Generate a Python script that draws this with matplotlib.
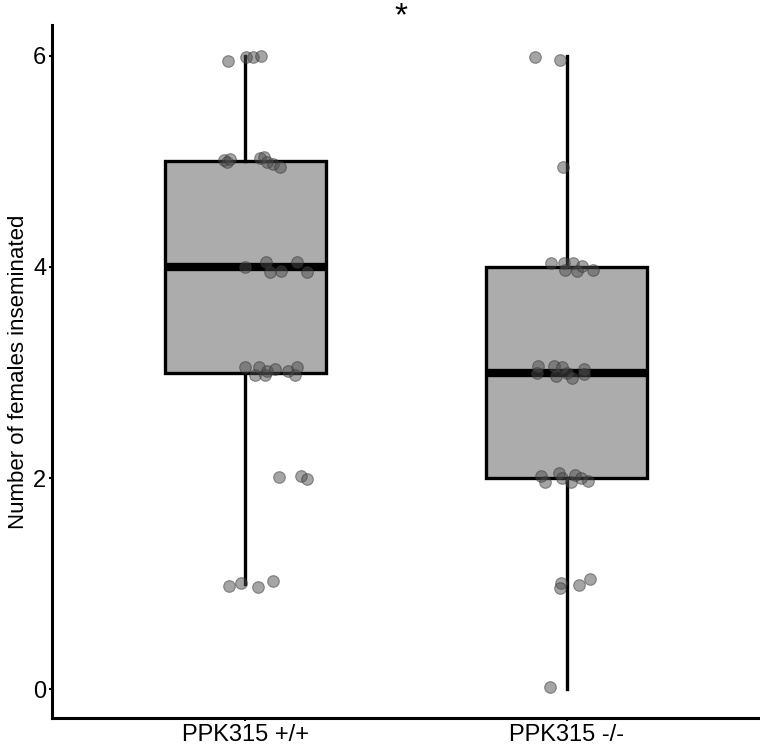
import matplotlib
matplotlib.use('Agg')
import matplotlib.pyplot as plt
import numpy as np

plt.rcParams['font.family'] = ['Liberation Sans', 'DejaVu Sans']

groups = ['PPK315 +/+', 'PPK315 -/-']

wt_x = [0.947, 1.002, 1.024, 1.049,
        0.935, 0.944, 0.953, 1.045, 1.060, 1.069, 1.088, 1.110,
        0.999, 1.065, 1.078, 1.112, 1.162, 1.193,
        0.999, 1.031, 1.043, 1.062, 1.068, 1.093, 1.133, 1.155, 1.162,
        1.106, 1.174, 1.193,
        0.950, 0.987, 1.040, 1.087]
wt_y = [5.95, 5.99, 5.99, 6.00,
        5.01, 4.99, 5.02, 5.03, 5.04, 4.99, 4.97, 4.95,
        4.00, 4.05, 3.95, 3.96, 4.05, 3.95,
        3.05, 2.98, 3.05, 2.98, 3.01, 3.03, 3.01, 2.98, 3.05,
        2.01, 2.02, 1.99,
        0.98, 1.01, 0.97, 1.03]

ko_x = [1.900, 1.978,
        1.987,
        1.950, 1.990, 1.994, 2.019, 2.031, 2.047, 2.081,
        1.910, 1.907, 1.960, 1.966, 1.984, 2.000, 2.016, 2.053, 2.053,
        1.919, 1.932, 1.975, 1.984, 2.012, 2.025, 2.044, 2.066,
        1.981, 1.978, 2.037, 2.071,
        1.947]
ko_y = [5.99, 5.96,
        4.95,
        4.04, 4.04, 3.97, 4.04, 3.96, 4.01, 3.97,
        3.06, 3.00, 3.06, 2.97, 3.05, 3.00, 2.95, 3.03, 2.99,
        2.02, 1.96, 2.05, 2.00, 1.96, 2.03, 2.00, 1.97,
        1.01, 0.96, 0.99, 1.05,
        0.02]

# the counts are whole numbers; the jitter is only for display
wt_counts = np.round(wt_y)
ko_counts = np.round(ko_y)

fig = plt.figure(figsize=(7.6, 7.5), dpi=100)
ax = fig.add_axes([0.0684, 0.0427, 0.9316, 0.924])

bp = ax.boxplot([wt_counts, ko_counts], positions=[1, 2], widths=0.5, patch_artist=True,
                showfliers=False, showcaps=False, whis=1.5)
for b in bp['boxes']:
    b.set_facecolor('#acacac')
    b.set_edgecolor('black')
    b.set_linewidth(2.4)
for w in bp['whiskers']:
    w.set_color('black')
    w.set_linewidth(2.4)
for m in bp['medians']:
    m.set_color('black')
    m.set_linewidth(6)

ax.scatter(wt_x, wt_y, s=70, color='#4d4d4d', alpha=0.5, edgecolors='#333333',
           linewidths=0.8, zorder=3)
ax.scatter(ko_x, ko_y, s=70, color='#4d4d4d', alpha=0.5, edgecolors='#333333',
           linewidths=0.8, zorder=3)

ax.set_xlim(0.4, 2.6)
ax.set_ylim(-0.27, 6.29)
ax.set_xticks([1, 2])
ax.set_xticklabels(groups, fontsize=17)
ax.set_yticks([0, 2, 4, 6])
ax.set_yticklabels(['0', '2', '4', '6'], fontsize=17)
ax.set_ylabel('Number of females inseminated', fontsize=16, labelpad=3)
ax.tick_params(length=2.5, width=1.5, pad=1.5)

for s in ['top', 'right']:
    ax.spines[s].set_visible(False)
for s in ['left', 'bottom']:
    ax.spines[s].set_linewidth(2.2)

# significance mark above the panel
fig.text(0.527, 0.998, '*', ha='center', va='top', fontsize=24)

fig.savefig('out.png', dpi=100)
